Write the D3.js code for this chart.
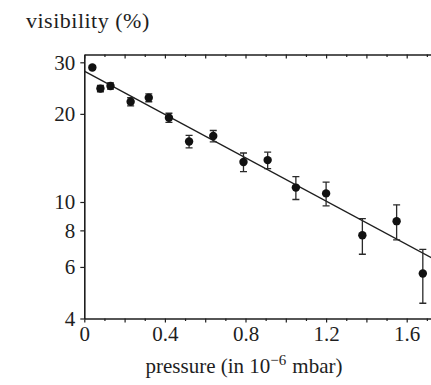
<!DOCTYPE html>
<html>
<head>
<meta charset="utf-8">
<script src="https://cdn.jsdelivr.net/npm/d3@7"></script>
<style>
  body { margin: 0; background: #fff; }
  svg { display: block; }
</style>
</head>
<body>
<svg id="chart" width="431" height="385"></svg>
<script>
// measured points
var pressure   = [0.04, 0.08, 0.13, 0.23, 0.32, 0.42, 0.52, 0.64, 0.79, 0.91, 1.05, 1.20, 1.38, 1.55, 1.68];
var visibility = [28.8, 24.4, 24.9, 22.0, 22.7, 19.4, 16.1, 16.8, 13.7, 13.9, 11.2, 10.7, 7.7, 8.6, 5.7];
var errors     = [0.4, 0.6, 0.6, 0.7, 0.7, 0.7, 0.8, 0.75, 1.0, 0.9, 1.0, 1.0, 1.07, 1.18, 1.19];

// fitted line, two ends
var fitPressure   = [0, 1.75];
var fitVisibility = [28.0, 6.3];

var xLabelTicks = [0, 0.4, 0.8, 1.2, 1.6];
var xLongTicks  = [0, 0.2, 0.4, 0.6, 0.8, 1.0, 1.2, 1.4, 1.6];
var xShortTicks = [0.1, 0.3, 0.5, 0.7, 0.9, 1.1, 1.3, 1.5, 1.7];
var yTicks      = [4, 6, 8, 10, 20, 30];

var width = 431, height = 385;
var margin = { top: 54.5, left: 84.3, bottom: 318.5 };
var serif = '"Liberation Serif", "Times New Roman", serif';

var x = d3.scaleLinear()
    .domain([0, 1.75])
    .range([margin.left, margin.left + 201.5 * 1.75]);

var y = d3.scaleLog()
    .domain([4, 31.9])
    .range([margin.bottom, margin.top]);

var svg = d3.select("#chart");
var ink = "#1e1e1e";

svg.append("clipPath").attr("id", "plotClip")
  .append("rect")
    .attr("x", margin.left).attr("y", margin.top)
    .attr("width", width - margin.left).attr("height", margin.bottom - margin.top);

// bottom axis: labels + ticks
var bottomAxis = svg.append("g").attr("transform", `translate(0,${margin.bottom})`);
bottomAxis.call(d3.axisBottom(x).tickValues(xLongTicks).tickSizeInner(4).tickSizeOuter(0).tickFormat(""));
bottomAxis.append("g").call(d3.axisBottom(x).tickValues(xShortTicks).tickSizeInner(2.5).tickSizeOuter(0).tickFormat(""))
    .call(g => g.select(".domain").remove());
bottomAxis.append("g").call(d3.axisBottom(x).tickValues(xLabelTicks).tickSize(0).tickPadding(8).tickFormat(d3.format("")))
    .call(g => g.select(".domain").remove());

// top axis, ticks pointing in
var topAxis = svg.append("g").attr("transform", `translate(0,${margin.top})`);
topAxis.call(d3.axisTop(x).tickValues(xLongTicks).tickSizeInner(-4).tickSizeOuter(0).tickFormat(""));
topAxis.append("g").call(d3.axisTop(x).tickValues(xShortTicks).tickSizeInner(-2.5).tickSizeOuter(0).tickFormat(""))
    .call(g => g.select(".domain").remove());

// left axis
svg.append("g")
    .attr("transform", `translate(${margin.left},0)`)
    .call(d3.axisLeft(y).tickValues(yTicks).tickSizeInner(4).tickSizeOuter(0).tickPadding(5).tickFormat(d3.format("d")));

svg.selectAll(".domain").attr("stroke", ink).attr("stroke-width", 1.6);
svg.selectAll(".tick line").attr("stroke", ink).attr("stroke-width", 1.2);
svg.selectAll(".tick text")
    .style("font-family", serif)
    .style("font-size", "21px")
    .attr("fill", ink);

var plot = svg.append("g").attr("clip-path", "url(#plotClip)");

// fit line
var fit = fitPressure.map((p, i) => [p, fitVisibility[i]]);
plot.append("path")
    .attr("d", d3.line().x(d => x(d[0])).y(d => y(d[1]))(fit))
    .attr("fill", "none")
    .attr("stroke", ink)
    .attr("stroke-width", 1.4);

var pts = pressure.map((p, i) => ({ p: p, v: visibility[i], e: errors[i] }));

// error bars
var bars = plot.append("g").attr("stroke", "#2a2a2a").attr("stroke-width", 1.3);
bars.selectAll("line.v").data(pts).join("line").attr("class", "v")
    .attr("x1", d => x(d.p)).attr("x2", d => x(d.p))
    .attr("y1", d => y(d.v + d.e)).attr("y2", d => y(d.v - d.e));
bars.selectAll("line.t").data(pts).join("line").attr("class", "t")
    .attr("x1", d => x(d.p) - 3.5).attr("x2", d => x(d.p) + 3.5)
    .attr("y1", d => y(d.v + d.e)).attr("y2", d => y(d.v + d.e));
bars.selectAll("line.b").data(pts).join("line").attr("class", "b")
    .attr("x1", d => x(d.p) - 3.5).attr("x2", d => x(d.p) + 3.5)
    .attr("y1", d => y(d.v - d.e)).attr("y2", d => y(d.v - d.e));

plot.append("g").selectAll("circle").data(pts).join("circle")
    .attr("cx", d => x(d.p))
    .attr("cy", d => y(d.v))
    .attr("r", 4.2)
    .attr("fill", "#111");

// axis titles
svg.append("text")
    .attr("x", 26).attr("y", 27.5)
    .style("font-family", serif)
    .style("font-size", "22px")
    .style("letter-spacing", "0.5px")
    .attr("fill", ink)
    .text("visibility (%)");

var xt = svg.append("text")
    .attr("x", 244).attr("y", 373)
    .attr("text-anchor", "middle")
    .style("font-family", serif)
    .style("font-size", "21px")
    .attr("fill", ink);
xt.append("tspan").text("pressure (in 10");
xt.append("tspan").style("font-size", "15px").attr("dy", -8).text("\u22126");
xt.append("tspan").attr("dy", 8).attr("dx", 6).text("mbar)");
</script>
</body>
</html>
